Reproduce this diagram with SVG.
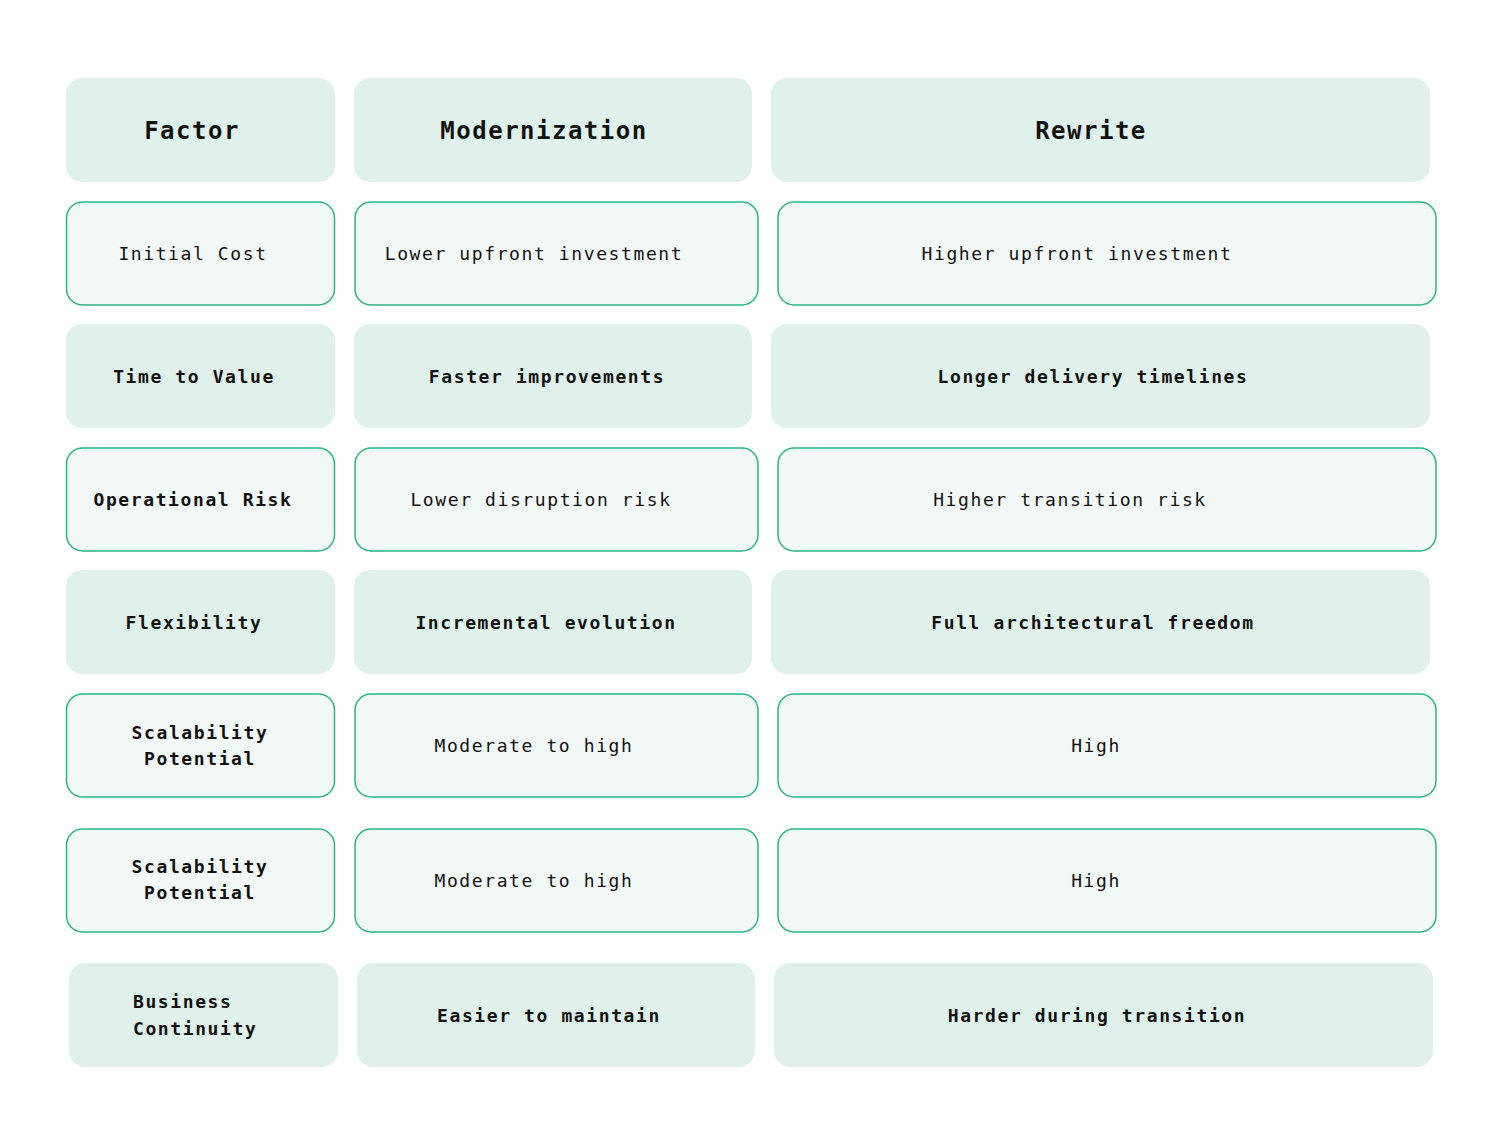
<svg xmlns="http://www.w3.org/2000/svg" width="1500" height="1146" viewBox="0 0 1500 1146">
<style>
.f{fill:#e0f1eb}
.o{fill:#f2f8f6;stroke:#2ab582;stroke-width:1.5}
text{font-family:"DejaVu Sans Mono","Liberation Mono",monospace;fill:#111;text-anchor:middle;font-size:18px;letter-spacing:1.6px}
.b{font-weight:bold}
.h{font-size:24px;font-weight:bold;letter-spacing:1.5px}
</style>
<rect width="1500" height="1146" fill="#fff"/>
<g id="header">
<rect class="f" x="66" y="78" width="269" height="104" rx="16"/><text class="h" x="192" y="139">Factor</text>
<rect class="f" x="354" y="78" width="398" height="104" rx="16"/><text class="h" x="544" y="139">Modernization</text>
<rect class="f" x="771" y="78" width="659" height="104" rx="16"/><text class="h" x="1091" y="139">Rewrite</text>
</g>
<g id="row1">
<rect class="o" x="66.5" y="202" width="268" height="103" rx="16"/><text x="193" y="260">Initial Cost</text>
<rect class="o" x="355" y="202" width="403" height="103" rx="16"/><text x="534" y="260">Lower upfront investment</text>
<rect class="o" x="778" y="202" width="658" height="103" rx="16"/><text x="1077" y="260">Higher upfront investment</text>
</g>
<g id="row2">
<rect class="f" x="66" y="324" width="269" height="104" rx="16"/><text class="b" x="194" y="383">Time to Value</text>
<rect class="f" x="354" y="324" width="398" height="104" rx="16"/><text class="b" x="547" y="383">Faster improvements</text>
<rect class="f" x="771" y="324" width="659" height="104" rx="16"/><text class="b" x="1093" y="383">Longer delivery timelines</text>
</g>
<g id="row3">
<rect class="o" x="66.5" y="448" width="268" height="103" rx="16"/><text class="b" x="193" y="506">Operational Risk</text>
<rect class="o" x="355" y="448" width="403" height="103" rx="16"/><text x="541" y="506">Lower disruption risk</text>
<rect class="o" x="778" y="448" width="658" height="103" rx="16"/><text x="1070" y="506">Higher transition risk</text>
</g>
<g id="row4">
<rect class="f" x="66" y="570" width="269" height="104" rx="16"/><text class="b" x="194" y="629">Flexibility</text>
<rect class="f" x="354" y="570" width="398" height="104" rx="16"/><text class="b" x="546" y="629">Incremental evolution</text>
<rect class="f" x="771" y="570" width="659" height="104" rx="16"/><text class="b" x="1093" y="629">Full architectural freedom</text>
</g>
<g id="row5">
<rect class="o" x="66.5" y="694" width="268" height="103" rx="16"/><text class="b" x="200" y="739">Scalability</text><text class="b" x="200" y="765">Potential</text>
<rect class="o" x="355" y="694" width="403" height="103" rx="16"/><text x="534" y="752">Moderate to high</text>
<rect class="o" x="778" y="694" width="658" height="103" rx="16"/><text x="1096" y="752">High</text>
</g>
<g id="row6">
<rect class="o" x="66.5" y="829" width="268" height="103" rx="16"/><text class="b" x="200" y="873">Scalability</text><text class="b" x="200" y="899">Potential</text>
<rect class="o" x="355" y="829" width="403" height="103" rx="16"/><text x="534" y="887">Moderate to high</text>
<rect class="o" x="778" y="829" width="658" height="103" rx="16"/><text x="1096" y="887">High</text>
</g>
<g id="row7">
<rect class="f" x="69" y="963" width="269" height="104" rx="16"/><text class="b" x="133" y="1008" style="text-anchor:start">Business</text><text class="b" x="133" y="1035" style="text-anchor:start">Continuity</text>
<rect class="f" x="357" y="963" width="398" height="104" rx="16"/><text class="b" x="549" y="1022">Easier to maintain</text>
<rect class="f" x="774" y="963" width="659" height="104" rx="16"/><text class="b" x="1097" y="1022">Harder during transition</text>
</g>
<g id="connectors"/>
</svg>
